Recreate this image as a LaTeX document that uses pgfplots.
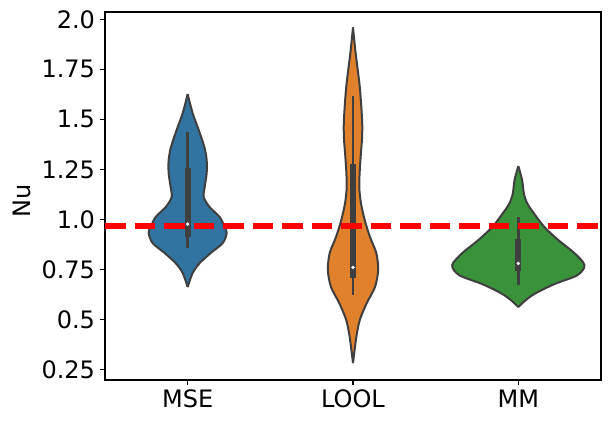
\documentclass[border=0pt]{standalone}
\usepackage{pgfplots}
\pgfplotsset{compat=1.18}
\usepackage{pgfplotstable}
\usepgfplotslibrary{fillbetween}
\usepackage{fontspec}
\setmainfont{DejaVu Sans}

\definecolor{cblue}{HTML}{3274A1}
\definecolor{corange}{HTML}{E1812C}
\definecolor{cgreen}{HTML}{3A923A}
\definecolor{lc}{HTML}{3F3F3F}

% violin outlines: y, right edge, left edge (x units; centres at 0, 1, 2)
\pgfplotstableread{
y r l
1.6265 0.000 0.000
1.5315 0.030 -0.030
1.4465 0.067 -0.067
1.3615 0.101 -0.101
1.2965 0.115 -0.115
1.2315 0.115 -0.115
1.1615 0.103 -0.103
1.1115 0.097 -0.097
1.0615 0.133 -0.133
1.0115 0.194 -0.194
0.9615 0.224 -0.224
0.9315 0.236 -0.236
0.8815 0.212 -0.212
0.8315 0.139 -0.139
0.7815 0.073 -0.073
0.7315 0.030 -0.030
0.6615 0.000 0.000
}\msedata

\pgfplotstableread{
y r l
1.9600 1.000 1.000
1.8315 1.016 0.984
1.6615 1.041 0.959
1.4965 1.055 0.945
1.4115 1.055 0.945
1.3315 1.048 0.952
1.2465 1.041 0.959
1.1615 1.038 0.962
1.0815 1.048 0.952
0.9965 1.071 0.929
0.9115 1.103 0.897
0.8315 1.141 0.859
0.7465 1.152 0.848
0.6615 1.133 0.867
0.5815 1.083 0.917
0.4965 1.041 0.959
0.4115 1.020 0.980
0.2815 1.000 1.000
}\looldata

\pgfplotstableread{
y r l
1.2665 2.000 2.000
1.1965 2.023 1.977
1.1315 2.033 1.967
1.0815 2.053 1.947
1.0315 2.093 1.907
0.9615 2.158 1.842
0.8965 2.242 1.758
0.8315 2.339 1.661
0.7715 2.400 1.600
0.7215 2.358 1.642
0.6765 2.218 1.782
0.6315 2.106 1.894
0.5965 2.045 1.955
0.5615 2.000 2.000
}\mmdata

\begin{document}
\begin{tikzpicture}
\begin{axis}[
  name=ax, set layers,
  scale only axis, width=496bp, height=368bp,
  xmin=-0.5, xmax=2.5, ymin=0.197, ymax=2.037,
  xtick={0,1,2}, xticklabels={MSE,LOOL,MM},
  ytick={0.25,0.5,0.75,1.0,1.25,1.5,1.75,2.0},
  yticklabels={0.25,0.5,0.75,1.0,1.25,1.5,1.75,2.0},
  tick align=outside, major tick length=4.9bp,
  every tick/.style={black, line width=1.1bp},
  axis line style={line width=1.1bp},
  tick pos=left,
  /pgf/number format/assume math mode=true,
  tick label style={font=\fontsize{24bp}{28bp}\selectfont, inner sep=0pt},
  yticklabel style={anchor=east, xshift=-4.9bp},
  xticklabel style={anchor=north, yshift=-4.9bp},
  ylabel={Nu},
  ylabel style={font=\fontsize{24bp}{28bp}\selectfont, inner sep=0pt,
    at={(axis description cs:-0.1673,0.4864)}, anchor=center},
]
% MSE
\addplot[name path=mseR, draw=lc, line width=2bp, smooth, line join=round] table[x=r,y=y]{\msedata};
\addplot[name path=mseL, draw=lc, line width=2bp, smooth, line join=round] table[x=l,y=y]{\msedata};
\addplot[fill=cblue, draw=none] fill between[of=mseR and mseL];
% LOOL
\addplot[name path=loolR, draw=lc, line width=2bp, smooth, line join=round] table[x=r,y=y]{\looldata};
\addplot[name path=loolL, draw=lc, line width=2bp, smooth, line join=round] table[x=l,y=y]{\looldata};
\addplot[fill=corange, draw=none] fill between[of=loolR and loolL];
% MM
\addplot[name path=mmR, draw=lc, line width=2bp, smooth, line join=round] table[x=r,y=y]{\mmdata};
\addplot[name path=mmL, draw=lc, line width=2bp, smooth, line join=round] table[x=l,y=y]{\mmdata};
\addplot[fill=cgreen, draw=none] fill between[of=mmR and mmL];
% whiskers
\addplot[lc, line width=2.6bp] coordinates {(0,0.855) (0,1.438)};
\addplot[lc, line width=2.6bp] coordinates {(1,0.6215) (1,1.6165)};
\addplot[lc, line width=2.6bp] coordinates {(2,0.6715) (2,1.010)};
% boxes
\addplot[lc, line width=6.25bp] coordinates {(0,0.913) (0,1.258)};
\addplot[lc, line width=6.25bp] coordinates {(1,0.705) (1,1.2765)};
\addplot[lc, line width=6.25bp] coordinates {(2,0.743) (2,0.9015)};
% medians
\addplot[only marks, mark=*, mark size=1.5bp, white, mark options={draw=white, fill=white}] coordinates {(0,0.9765) (1,0.760) (2,0.780)};
% reference line
\addplot[red, line width=5.5bp, dash pattern=on 20.6bp off 8.9bp] coordinates {(-0.5,0.9675) (2.5,0.9675)};
\end{axis}
\pgfresetboundingbox
\path[use as bounding box] ([xshift=-105bp,yshift=-44bp]ax.south west) rectangle ([xshift=9bp,yshift=12bp]ax.north east);
\end{tikzpicture}
\end{document}
